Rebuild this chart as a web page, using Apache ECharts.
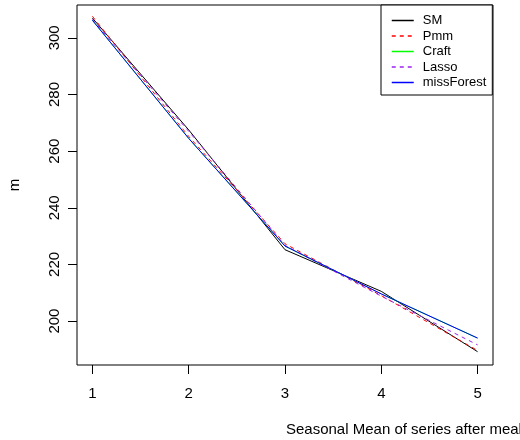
<!DOCTYPE html>
<html>
<head>
<meta charset="utf-8">
<script src="https://cdn.jsdelivr.net/npm/echarts@6/dist/echarts.min.js"></script>
<style>
  html, body { margin: 0; padding: 0; background: #fff; }
  #chart { width: 520px; height: 440px; }
</style>
</head>
<body>
<div id="chart"></div>
<script>
// season index on the x axis
var seasons = [1, 2, 3, 4, 5];

// seasonal means per imputation method
var smValues         = [307.0, 267.5, 225.2, 210.5, 189.2];
var pmmValues        = [307.6, 265.2, 227.3, 209.0, 189.6];
var craftValues      = [306.2, 264.5, 226.5, 209.6, 194.0];
var lassoValues      = [306.5, 267.0, 226.7, 208.8, 191.6];
var missForestValues = [306.2, 264.5, 226.5, 209.6, 194.0];

var xTicks = [1, 2, 3, 4, 5];
var yTicks = [200, 220, 240, 260, 280, 300];

var font = '"Liberation Sans", Arial, sans-serif';

function pairs(vals) {
    return seasons.map(function(s, i) { return [s, vals[i]]; });
}

function lineSeries(name, vals, color, dashed) {
    return {
        name: name,
        type: 'line',
        data: pairs(vals),
        symbol: 'none',
        animation: false,
        lineStyle: { color: color, width: 1, type: dashed ? [4, 4] : 'solid' },
        itemStyle: { color: color }
    };
}

var chart = echarts.init(document.getElementById('chart'));

chart.setOption({
    backgroundColor: '#fff',
    animation: false,
    grid: {
        left: 77, right: 27, top: 5, bottom: 75,
        outerBoundsMode: 'none',
        containLabel: false,
        show: true, borderColor: '#000', borderWidth: 1
    },
    legend: {
        orient: 'vertical',
        left: 381, top: 5,
        padding: [9, 6, 6, 10],
        borderColor: '#000', borderWidth: 1,
        backgroundColor: '#fff',
        itemWidth: 22, itemHeight: 12, itemGap: 2.5,
        itemStyle: { opacity: 0 },
        lineStyle: { width: 1.5 },
        textStyle: { fontFamily: font, fontSize: 13, color: '#000', padding: [0, 0, 0, 4] },
        data: ['SM', 'Pmm', 'Craft', 'Lasso', 'missForest']
    },
    xAxis: {
        type: 'value',
        min: 0.84, max: 5.16,
        splitLine: { show: false },
        axisLine: { show: false },
        axisTick: { show: true, length: 9, customValues: xTicks, lineStyle: { color: '#000' } },
        axisLabel: { customValues: xTicks, margin: 21, fontFamily: font, fontSize: 15, color: '#000' }
    },
    yAxis: {
        type: 'value',
        min: 184.5, max: 311.6,
        name: 'm',
        nameLocation: 'middle',
        nameRotate: 90,
        nameGap: 55,
        nameTextStyle: { fontFamily: font, fontSize: 15, color: '#000' },
        splitLine: { show: false },
        axisLine: { show: false },
        axisTick: { show: true, length: 9, customValues: yTicks, lineStyle: { color: '#000' } },
        axisLabel: { customValues: yTicks, rotate: 90, margin: 15, fontFamily: font, fontSize: 15, color: '#000' }
    },
    graphic: [{
        type: 'text',
        left: 286, top: 422,
        style: { text: 'Seasonal Mean of series after meal', font: '15px ' + font, fill: '#000' }
    }],
    series: [
        lineSeries('SM', smValues, '#000000', false),
        lineSeries('Pmm', pmmValues, '#FF0000', true),
        lineSeries('Craft', craftValues, '#00FF00', false),
        lineSeries('Lasso', lassoValues, '#A020F0', true),
        lineSeries('missForest', missForestValues, '#0000FF', false)
    ]
});
</script>
</body>
</html>
